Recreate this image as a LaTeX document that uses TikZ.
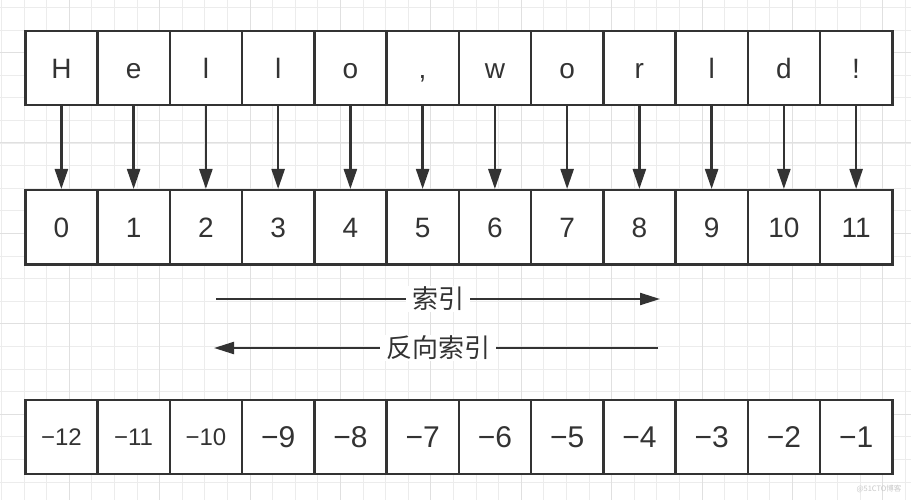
\documentclass[tikz,border=0pt]{standalone}
\usepackage{fontspec}
\setmainfont{Liberation Sans}
\newfontfamily\cjk{Noto Sans CJK SC}
\usetikzlibrary{arrows.meta}
\definecolor{ink}{HTML}{333333}
\definecolor{gridminor}{HTML}{ECECEC}
\definecolor{gridmajor}{HTML}{E0E0E0}
\definecolor{wmark}{HTML}{C8C8C8}
\begin{document}
\begin{tikzpicture}[x=1pt,y=-1pt,
  cell/.style={draw=ink, line width=2.5pt, fill=white, minimum width=72.25pt,
    minimum height=74pt, inner sep=0pt, anchor=north west, text=ink,
    font=\fontsize{28}{28}\selectfont, text height=20pt, text depth=0pt},
  bigcell/.style={cell, font=\fontsize{30}{30}\selectfont, text height=21.5pt},
  smallcell/.style={cell, font=\fontsize{24}{24}\selectfont, text height=16.5pt},
  down/.style={draw=ink, line width=2.4pt, -{Triangle[length=20pt,width=13pt]}},
  idx/.style={draw=ink, line width=2.2pt, -{Triangle[length=20pt,width=12pt]}},
  lbl/.style={fill=white, text=ink, inner xsep=6pt, inner ysep=1pt,
    font=\cjk\fontsize{26}{26}\selectfont},
  wm/.style={text=wmark, inner sep=0pt, font=\cjk\fontsize{7.5}{7.5}\selectfont}]
\useasboundingbox (0,0) rectangle (911,500);
\fill[white] (0,0) rectangle (911,500);
% grid
\begin{scope}
\clip (0,0) rectangle (911,500);
\foreach \k in {-2,...,40} {
  \draw[gridminor, line width=0.8pt] ({24+\k*22.6},0) -- ({24+\k*22.6},500);
  \draw[gridminor, line width=0.8pt] (0,{30+\k*22.6}) -- (911,{30+\k*22.6});
}
\foreach \m in {-1,...,10} {
  \draw[gridmajor, line width=1pt] ({24+(2+4*\m)*22.6},0) -- ({24+(2+4*\m)*22.6},500);
  \draw[gridmajor, line width=1pt] (0,{30+(1+4*\m)*22.6}) -- (911,{30+(1+4*\m)*22.6});
}
\end{scope}
% rows
\foreach \t [count=\i from 0] in {H,e,l,l,o,{,},w,o,r,l,d,!} {
  \node[cell] (h\i) at ({24+\i*72.25},30) {\t};
}
\foreach \t [count=\i from 0] in {0,1,2,3,4,5,6,7,8,9,10,11} {
  \node[cell] (i\i) at ({24+\i*72.25},189) {\t};
}
\foreach \t [count=\i from 0] in {−12,−11,−10} {
  \node[smallcell] (n\i) at ({24+\i*72.25},398.5) {\t};
}
\foreach \t [count=\i from 3] in {−9,−8,−7,−6,−5,−4,−3,−2,−1} {
  \node[bigcell] (n\i) at ({24+\i*72.25},398.5) {\t};
}
\foreach \i in {0,...,11} {
  \draw[down] (h\i.south) -- (i\i.north);
}
% index arrows
\coordinate (a1) at (216,299);
\coordinate (a2) at (660,299);
\coordinate (b1) at (658,348);
\coordinate (b2) at (214,348);
\draw[idx] (a1) -- node[lbl] {索引} (a2);
\draw[idx] (b1) -- node[lbl, pos=0.495] {反向索引} (b2);
\node[wm] (w) at (879,489) {@51CTO博客};
\end{tikzpicture}
\end{document}
